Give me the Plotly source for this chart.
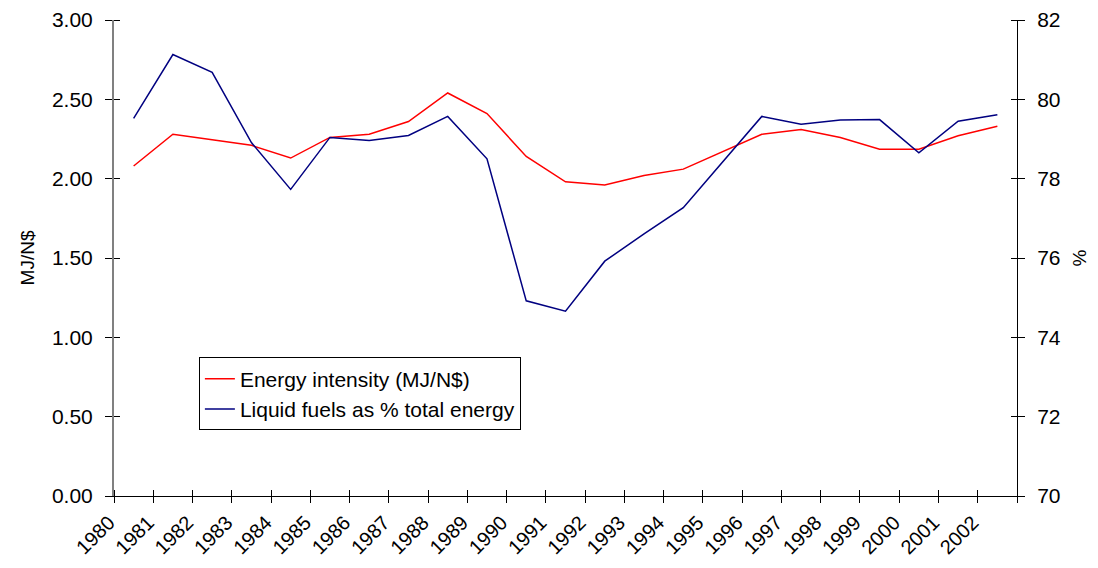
import plotly.graph_objects as go

years = list(range(1980, 2003))
year_labels = [str(y) for y in years]
energy_intensity = [2.08, 2.28, 2.245, 2.21, 2.13, 2.26, 2.28, 2.36, 2.54, 2.41,
                    2.14, 1.98, 1.96, 2.02, 2.06, 2.17, 2.28, 2.31, 2.26, 2.185,
                    2.185, 2.27, 2.33]
liquid_share = [79.52, 81.13, 80.68, 78.91, 77.73, 79.04, 78.96, 79.09, 79.57, 78.50,
                74.92, 74.66, 75.92, 76.61, 77.27, 78.42, 79.57, 79.37, 79.48, 79.49,
                78.65, 79.45, 79.61]
left_ticks = [0, 0.5, 1.0, 1.5, 2.0, 2.5, 3.0]
right_ticks = [70, 72, 74, 76, 78, 80, 82]

FONT = "Liberation Sans, Arial, sans-serif"

# each year's value sits in the middle of its category slot (Excel-style)
x_mid = [y + 0.5 for y in years]
x_bounds = years + [years[-1] + 1]
x_bound_text = year_labels + [""]
EPS = 1e-7  # minor ticks (inner half of crossing ticks) at the major positions

fig = go.Figure()
fig.add_trace(go.Scatter(x=x_mid, y=energy_intensity, mode="lines",
                         name="Energy intensity (MJ/N$)",
                         line=dict(color="#FF0000", width=1.5),
                         xaxis="x", yaxis="y"))
fig.add_trace(go.Scatter(x=x_mid, y=liquid_share, mode="lines",
                         name="Liquid fuels as % total energy",
                         line=dict(color="#000080", width=1.5),
                         xaxis="x", yaxis="y2"))

fig.update_layout(
    width=1098, height=568,
    margin=dict(l=106, r=89, t=12, b=80, pad=0),
    paper_bgcolor="white", plot_bgcolor="white",
    font=dict(family=FONT, color="black", size=21),
    showlegend=True,
    legend=dict(x=0.094, y=0.291, xanchor="left", yanchor="top",
                bordercolor="black", borderwidth=1, bgcolor="white",
                font=dict(size=21, family=FONT), tracegroupgap=0,
                itemwidth=30),
    xaxis=dict(type="linear", range=[x_bounds[0], x_bounds[-1]],
               tickmode="array", tickvals=x_bounds, ticktext=x_bound_text,
               ticks="outside", ticklen=6, tickcolor="black", tickwidth=1,
               minor=dict(tickmode="array", tickvals=[v + EPS for v in x_bounds],
                          ticks="inside", ticklen=6, tickcolor="black",
                          tickwidth=1, showgrid=False),
               tickangle=-45, tickfont=dict(size=20, family=FONT),
               ticklabelshift=-5,
               ticklabeloverflow="allow", automargin=False,
               showline=True, linecolor="black", linewidth=1,
               showgrid=False, zeroline=False),
    yaxis=dict(range=[0, 3], tickmode="array", tickvals=left_ticks,
               tickformat=".2f", ticks="outside", ticklen=7,
               tickcolor="black", tickwidth=1, ticklabelstandoff=8,
               minor=dict(tickmode="array", tickvals=[v + EPS for v in left_ticks],
                          ticks="inside", ticklen=6, tickcolor="black",
                          tickwidth=1, showgrid=False),
               ticklabeloverflow="allow",
               showline=True, linecolor="#808080", linewidth=2,
               showgrid=False, zeroline=False, automargin=False,
               title=dict(text="MJ/N$", standoff=12,
                          font=dict(size=19, family=FONT))),
    yaxis2=dict(range=[70, 82], tickmode="array", tickvals=right_ticks,
                overlaying="y", side="right", anchor="x",
                ticks="outside", ticklen=7, tickcolor="black", tickwidth=1,
                minor=dict(tickmode="array", tickvals=[v + EPS for v in right_ticks],
                           ticks="inside", ticklen=6, tickcolor="black",
                           tickwidth=1, showgrid=False),
                ticklabelstandoff=8, automargin=False,
                ticklabeloverflow="allow",
                showline=True, linecolor="black", linewidth=1,
                showgrid=False, zeroline=False,
                title=dict(text="%", standoff=12,
                           font=dict(size=19, family=FONT))),
)

fig.write_html("out.html")
